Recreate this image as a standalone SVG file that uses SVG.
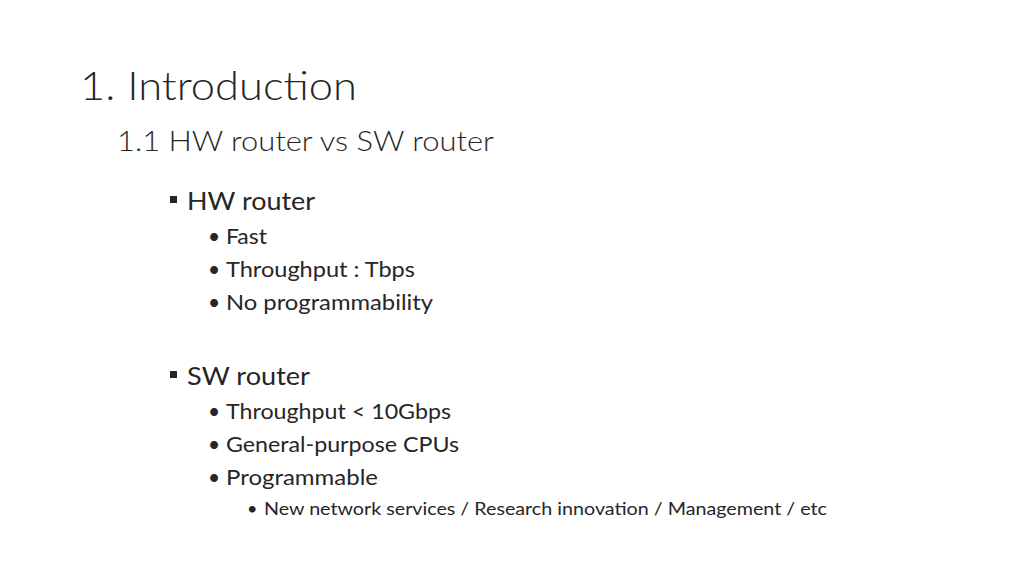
<svg xmlns="http://www.w3.org/2000/svg" width="1024" height="576" viewBox="0 0 1024 576">
<style>
text{font-family:Lato,"Open Sans","Liberation Sans",sans-serif;fill:#262626}
.t{font-size:40px;font-weight:300}
.s{font-size:28px;font-weight:300}
.h{font-size:25px}
.b{font-size:21px}
.c{font-size:18px}
</style>
<rect width="1024" height="576" fill="#fff"/>
<text class="t" x="80" y="100" textLength="277" lengthAdjust="spacingAndGlyphs">1. Introduction</text>
<text class="s" x="117" y="151" textLength="377" lengthAdjust="spacingAndGlyphs">1.1 HW router vs SW router</text>
<rect x="170" y="196" width="7" height="7" fill="#262626"/>
<text class="h" x="187" y="210" textLength="128" lengthAdjust="spacingAndGlyphs">HW router</text>
<g class="b">
<text class="b" x="208" y="244">•</text><text class="b" x="226" y="244" textLength="41" lengthAdjust="spacingAndGlyphs">Fast</text>
<text class="b" x="208" y="277">•</text><text class="b" x="226" y="277" textLength="189" lengthAdjust="spacingAndGlyphs">Throughput : Tbps</text>
<text class="b" x="208" y="310">•</text><text class="b" x="226" y="310" textLength="207" lengthAdjust="spacingAndGlyphs">No programmability</text>
</g>
<rect x="170" y="371" width="7" height="7" fill="#262626"/>
<text class="h" x="187" y="385" textLength="123" lengthAdjust="spacingAndGlyphs">SW router</text>
<text class="b" x="208" y="419">•</text><text class="b" x="226" y="419" textLength="225" lengthAdjust="spacingAndGlyphs">Throughput &lt; 10Gbps</text>
<text class="b" x="208" y="452">•</text><text class="b" x="226" y="452" textLength="233" lengthAdjust="spacingAndGlyphs">General-purpose CPUs</text>
<text class="b" x="208" y="485">•</text><text class="b" x="226" y="485" textLength="152" lengthAdjust="spacingAndGlyphs">Programmable</text>
<text class="c" x="247" y="515">•</text><text class="c" x="264" y="515" textLength="563" lengthAdjust="spacingAndGlyphs">New network services / Research innovation / Management / etc</text>
</svg>
